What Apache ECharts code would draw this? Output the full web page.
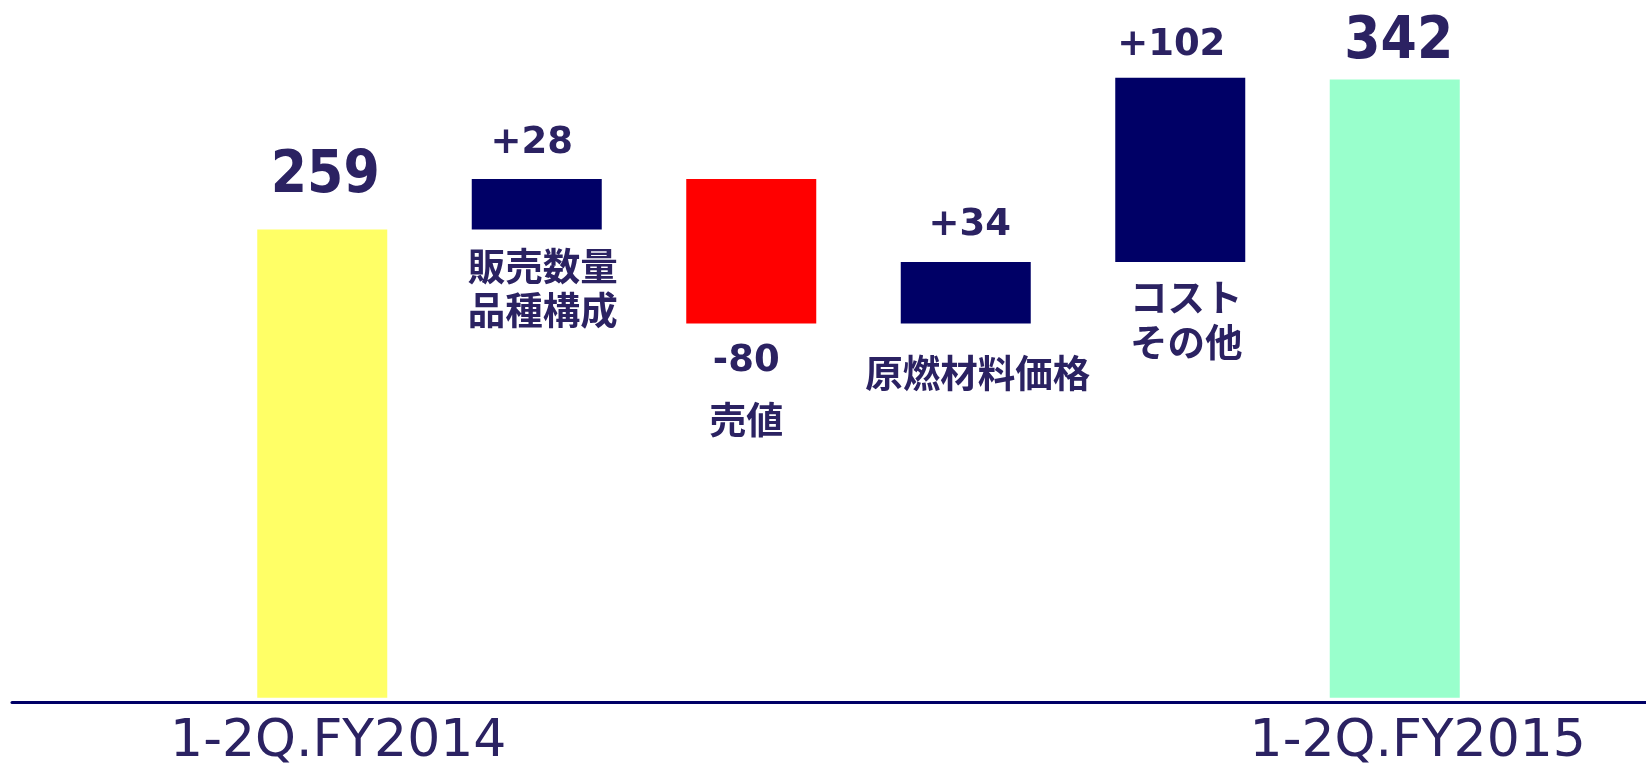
<!DOCTYPE html>
<html>
<head>
<meta charset="utf-8">
<script src="https://cdn.jsdelivr.net/npm/echarts@6/dist/echarts.min.js"></script>
<style>
  html, body { margin: 0; padding: 0; background: #fff; }
  #chart { width: 1646px; height: 772px; }
</style>
</head>
<body>
<div id="chart"></div>
<script>
// 数値データ
const categories = ['1-2Q.FY2014', '販売数量\n品種構成', '売値', '原燃材料価格', 'コスト\nその他', '1-2Q.FY2015'];
const startValue = 259;
const deltas = [28, -80, 34, 102];
const endValue = 342;
const barColors = ['#ffff66', '#000066', '#ff0000', '#000066', '#000066', '#99ffcc'];

const TEXT = '#2b2262';
const FONT = '"Noto Sans CJK JP", sans-serif';
const NUM_FONT = '"DejaVu Sans", sans-serif';
const BIG_FONT = '"DejaVu Sans Condensed", "DejaVu Sans", sans-serif';

// ウォーターフォール: 透明な土台 + 見える部分
const baseData = ['-'];
const barData = [startValue];
let running = startValue;
deltas.forEach(d => {
  const next = running + d;
  baseData.push(Math.min(running, next));
  barData.push(Math.abs(d));
  running = next;
});
baseData.push('-');
barData.push(endValue);

const signed = d => (d > 0 ? '+' : '') + d;

// 値ラベル（棒の上）
const topLabel = [
  { fontSize: 58, distance: 24, offset: [3, 0], font: BIG_FONT },
  { fontSize: 37, distance: 17, offset: [-5, 0], font: NUM_FONT },
  null,
  { fontSize: 37, distance: 18, offset: [4, 0], font: NUM_FONT },
  { fontSize: 37, distance: 14, offset: [-9, 0], font: NUM_FONT },
  { fontSize: 58, distance: 8, offset: [4, 0], font: BIG_FONT }
];

const visibleItems = barData.map((v, i) => {
  const cfg = topLabel[i];
  const text = i === 0 ? String(startValue) : i === barData.length - 1 ? String(endValue) : signed(deltas[i - 1]);
  return {
    value: v,
    itemStyle: { color: barColors[i] },
    label: cfg ? {
      show: true, position: 'top', formatter: text, fontFamily: cfg.font,
      fontSize: cfg.fontSize, distance: cfg.distance, offset: cfg.offset
    } : { show: false }
  };
});

// 項目名ラベル（棒の下）
const nameLabel = {
  1: { distance: 14, offset: [6, 0], lineHeight: 44 },
  3: { distance: 31, offset: [12, 0], lineHeight: 37 },
  4: { distance: 12, offset: [6, 0], lineHeight: 45 }
};

const baseItems = baseData.map((v, i) => {
  if (v === '-') return v;
  const d = deltas[i - 1];
  if (d < 0) {
    return {
      value: v,
      label: {
        show: true, position: 'insideTop', distance: 6, offset: [-5, 0],
        formatter: '{v|' + signed(d) + '}\n{n|' + categories[i] + '}',
        rich: {
          v: { fontSize: 37, lineHeight: 63, fontWeight: 'bold', color: TEXT, fontFamily: NUM_FONT },
          n: { fontSize: 37, lineHeight: 55, fontWeight: 'bold', color: TEXT, fontFamily: FONT }
        }
      }
    };
  }
  const cfg = nameLabel[i];
  return {
    value: v,
    label: {
      show: true, position: 'insideTop', formatter: categories[i],
      fontSize: 37.5, distance: cfg.distance, offset: cfg.offset, lineHeight: cfg.lineHeight
    }
  };
});

const chart = echarts.init(document.getElementById('chart'));
chart.setOption({
  animation: false,
  backgroundColor: '#fff',
  grid: [
    { left: 12, right: 0, top: 0, bottom: 70 },
    { left: 215, right: 144, top: 0, bottom: 74.3 }
  ],
  xAxis: [
    {
      gridIndex: 0, type: 'value', min: 0, max: 1,
      axisLine: { show: true, lineStyle: { color: '#000066', width: 3 } },
      axisTick: { show: false }, axisLabel: { show: false }, splitLine: { show: false }
    },
    {
      gridIndex: 1, type: 'category', data: categories,
      axisLine: { show: false }, axisTick: { show: false },
      axisLabel: {
        interval: 0, margin: 19,
        formatter: (val, idx) => idx === 0 ? '{a|' + val + '}' : idx === categories.length - 1 ? '{b|' + val + '}' : '',
        rich: {
          a: { fontSize: 52, color: TEXT, fontFamily: NUM_FONT, padding: [0, 0, 0, 32] },
          b: { fontSize: 52, color: TEXT, fontFamily: NUM_FONT, padding: [0, 0, 0, 46] }
        }
      }
    }
  ],
  yAxis: [
    { gridIndex: 0, type: 'value', min: 0, max: 1, show: false },
    { gridIndex: 1, type: 'value', min: 0, max: 386, show: false }
  ],
  series: [
    {
      name: 'base', type: 'bar', stack: 'wf', xAxisIndex: 1, yAxisIndex: 1,
      barWidth: 130, silent: true,
      itemStyle: { color: 'transparent' },
      label: { color: TEXT, fontWeight: 'bold', fontFamily: FONT },
      data: baseItems
    },
    {
      name: 'value', type: 'bar', stack: 'wf', xAxisIndex: 1, yAxisIndex: 1,
      barWidth: 130,
      label: { color: TEXT, fontWeight: 'bold' },
      data: visibleItems
    }
  ]
});
</script>
</body>
</html>
